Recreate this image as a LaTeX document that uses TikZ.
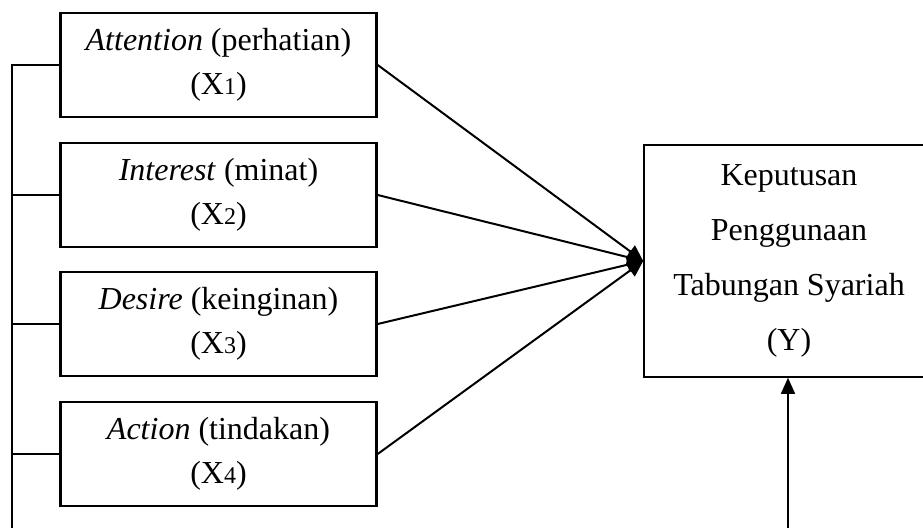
\documentclass[tikz,border=0pt]{standalone}
\usepackage{fontspec}
\setmainfont{Liberation Serif}
\usetikzlibrary{arrows.meta}
\newcommand{\varidx}[1]{{\fontsize{12}{14}\selectfont #1}}
\begin{document}
\begin{tikzpicture}[x=0.5pt,y=-0.5pt,
        font=\fontsize{16}{22}\selectfont,
        varbox/.style={shape=rectangle,draw=black,line width=1.2pt,minimum width=158pt,minimum height=52pt,align=center},
        ybox/.style={shape=rectangle,draw=black,line width=0.8pt,minimum width=145pt,minimum height=116pt,align=center,font=\fontsize{16}{27.5}\selectfont},
        tip/.style={-{Triangle[length=8pt,width=7.5pt]}, line width=1pt}]
        \clip (0,0) rectangle (923,528);

        \node[varbox] (X1) at (218.5,65) {\textit{Attention} (perhatian)\\(X\varidx{1})};
        \node[varbox] (X2) at (218.5,195) {\textit{Interest} (minat)\\(X\varidx{2})};
        \node[varbox] (X3) at (218.5,324) {\textit{Desire} (keinginan)\\(X\varidx{3})};
        \node[varbox] (X4) at (218.5,454) {\textit{Action} (tindakan)\\(X\varidx{4})};
        \node[ybox] (Y) at (789,261) {Keputusan\\Penggunaan\\Tabungan Syariah\\(Y)};

        % partial effects
        \path [tip] (X1.east) edge (Y.west);
        \path [tip] (X2.east) edge (Y.west);
        \path [tip] (X3.east) edge (Y.west);
        \path [tip] (X4.east) edge (Y.west);

        % simultaneous effect
        \coordinate (BL) at (12,540);
        \coordinate (BR) at (788,540);
        \draw [line width=0.7pt] (X1.west) -| (BL) -- (BR);
        \draw [line width=0.7pt] (X2.west) -- (X2.west -| BL);
        \draw [line width=0.7pt] (X3.west) -- (X3.west -| BL);
        \draw [line width=0.7pt] (X4.west) -- (X4.west -| BL);
        \path [-{Triangle[length=8pt,width=7pt]}, draw, line width=0.8pt] (BR) edge (BR |- Y.south);
    \end{tikzpicture}
\end{document}
